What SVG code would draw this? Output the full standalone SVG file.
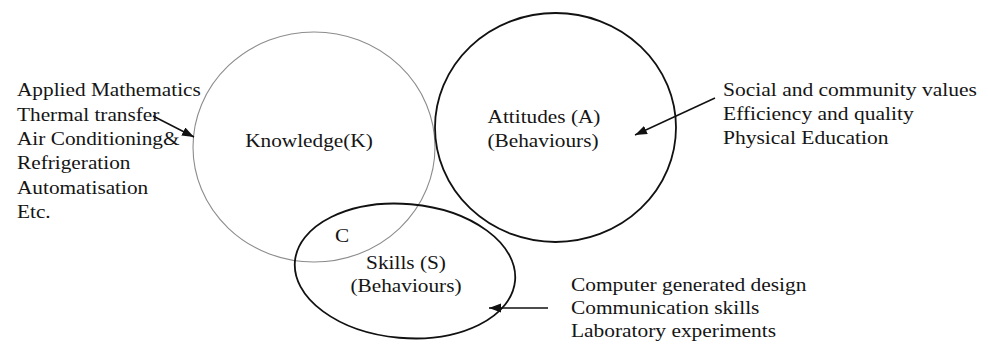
<svg xmlns="http://www.w3.org/2000/svg" width="988" height="344" viewBox="0 0 988 344">
<style>
text{font-family:"Liberation Serif","Times New Roman",serif;font-size:18px;fill:#151515}
.k{fill:none;stroke:#8c8c8c;stroke-width:1.1}
.b{fill:none;stroke:#111;stroke-width:1.8}
.arr{fill:none;stroke:#111;stroke-width:1.5;marker-end:url(#ah)}
</style>
<defs>
<marker id="ah" markerUnits="userSpaceOnUse" markerWidth="13" markerHeight="10" refX="12" refY="4.5" orient="auto">
<path d="M0,0 L12,4.5 L0,9 z" fill="#111"/>
</marker>
</defs>
<rect width="988" height="344" fill="#fff"/>
<g id="knowledge">
<ellipse class="k" cx="314" cy="147" rx="121" ry="115"/>
<text transform="translate(309,147) scale(1.183,1)" text-anchor="middle">Knowledge(K)</text>
</g>
<g id="attitudes">
<ellipse class="b" cx="555.5" cy="127.5" rx="120.5" ry="114.5"/>
<text transform="translate(544,123) scale(1.183,1)" text-anchor="middle">Attitudes (A)</text>
<text transform="translate(543,147) scale(1.183,1)" text-anchor="middle">(Behaviours)</text>
</g>
<g id="skills">
<ellipse class="b" cx="405" cy="271" rx="110.5" ry="67" transform="rotate(5 405 271)"/>
<text transform="translate(406,268.5) scale(1.183,1)" text-anchor="middle">Skills (S)</text>
<text transform="translate(406,291.5) scale(1.183,1)" text-anchor="middle">(Behaviours)</text>
</g>
<g id="intersection-c">
<text transform="translate(335,242) scale(1.183,1)">C</text>
</g>
<g id="knowledge-list" transform="translate(17,0) scale(1.183,1)">
<text x="0" y="96.5">Applied Mathematics</text>
<text x="0" y="120.8">Thermal transfer</text>
<text x="0" y="145.1">Air Conditioning&amp;</text>
<text x="0" y="169.4">Refrigeration</text>
<text x="0" y="193.7">Automatisation</text>
<text x="0" y="218">Etc.</text>
</g>
<g id="attitudes-list" transform="translate(723,0) scale(1.195,1)">
<text x="0" y="96">Social and community values</text>
<text x="0" y="120">Efficiency and quality</text>
<text x="0" y="144">Physical Education</text>
</g>
<g id="skills-list" transform="translate(571,0) scale(1.19,1)">
<text x="0" y="291">Computer generated design</text>
<text x="0" y="314">Communication skills</text>
<text x="0" y="337">Laboratory experiments</text>
</g>
<g id="connectors">
<line class="arr" x1="153" y1="116" x2="194" y2="137"/>
<line class="arr" x1="715" y1="98" x2="635" y2="135"/>
<line class="arr" x1="548" y1="308" x2="489" y2="308"/>
</g>
</svg>
